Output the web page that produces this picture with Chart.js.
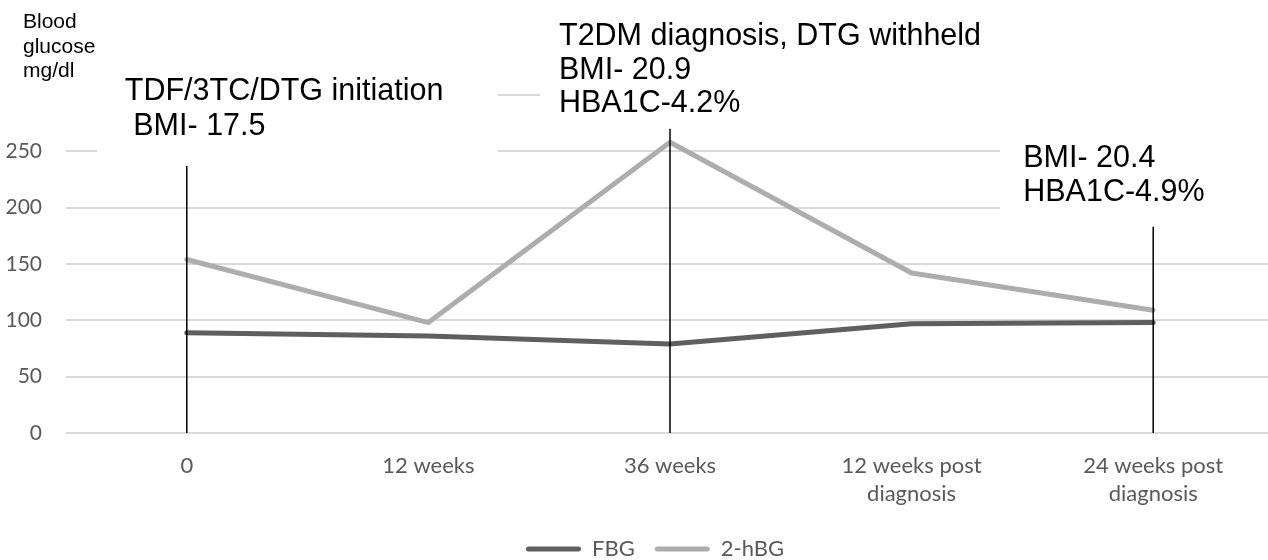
<!DOCTYPE html>
<html>
<head>
<meta charset="utf-8">
<script src="https://cdn.jsdelivr.net/npm/chart.js@4/dist/chart.umd.min.js"></script>
<style>
  body { margin: 0; background: #fff; }
  #wrap { width: 1268px; height: 560px; }
</style>
</head>
<body>
<div id="wrap"><canvas id="glucoseChart" width="1268" height="560"></canvas></div>
<script>
// Data
const timepoints = ['0', '12 weeks', '36 weeks', ['12 weeks post', 'diagnosis'], ['24 weeks post', 'diagnosis']];
const fbg = [89, 86, 79, 97, 98];
const twoHourBG = [154, 98, 258, 142, 109];
const yTicks = [0, 50, 100, 150, 200, 250, 300];

// Event markers: category index, top of the marker line (mg/dl), text
const markerIndex = [0, 2, 4];
const markerTop = [237, 270, 183];
const markerText = [
    ['TDF/3TC/DTG initiation', ' BMI- 17.5'],
    ['T2DM diagnosis, DTG withheld', 'BMI- 20.9', 'HBA1C-4.2%'],
    ['BMI- 20.4', 'HBA1C-4.9%']
];
const axisTitle = ['Blood', 'glucose', 'mg/dl'];

// text box layout (pixels): white boxes as in the original, text offset from marker line
const boxes = [
    { x: 0, y: 0, w: 97, h: 108 },
    { x: 97, y: 55, w: 401, h: 104 },
    { x: 540, y: 0, w: 728, h: 128 },
    { x: 1000, y: 128, w: 268, h: 90 }
];
const textPlace = [
    { dx: -62, y: 100, lh: 35 },
    { dx: -111, y: 45, lh: 33.5 },
    { dx: -130, y: 167, lh: 34 }
];

const darkGrey = '#5f5f5f';
const lightGrey = '#adadad';
const tickGrey = '#595959';

const annotationPlugin = {
    id: 'annotations',
    afterLayout(chart) {
        // the category band in the original runs a few px past the right edge
        const xs = chart.scales.x;
        xs.right += 6;
        xs.width += 6;
        xs.configure();
        // legend in the original sits a little right of centre
        chart.legend.left += 21;
        chart.legend.right += 21;
    },
    beforeDatasetsDraw(chart) {
        const ctx = chart.ctx;
        const xs = chart.scales.x;
        ctx.save();
        ctx.fillStyle = '#ffffff';
        boxes.forEach(b => ctx.fillRect(b.x, b.y, b.w, b.h));

        ctx.fillStyle = '#000000';
        ctx.textBaseline = 'alphabetic';
        ctx.textAlign = 'left';
        ctx.font = '21px "Liberation Sans", Arial, sans-serif';
        axisTitle.forEach((t, i) => ctx.fillText(t, 23, 28 + i * 24.5));

        ctx.font = '30.5px "Liberation Sans", Arial, sans-serif';
        markerText.forEach((lines, m) => {
            const px = xs.getPixelForValue(markerIndex[m]);
            const p = textPlace[m];
            lines.forEach((t, i) => ctx.fillText(t, px + p.dx, p.y + i * p.lh));
        });
        ctx.restore();
    },
    afterDatasetsDraw(chart) {
        const ctx = chart.ctx;
        const xs = chart.scales.x;
        const ys = chart.scales.y;
        ctx.save();
        ctx.strokeStyle = '#000000';
        ctx.lineWidth = 1.5;
        markerIndex.forEach((idx, m) => {
            const px = xs.getPixelForValue(idx);
            ctx.beginPath();
            ctx.moveTo(px, ys.getPixelForValue(markerTop[m]));
            ctx.lineTo(px, ys.getPixelForValue(0));
            ctx.stroke();
        });
        ctx.restore();
    }
};

const chart = new Chart(document.getElementById('glucoseChart').getContext('2d'), {
    type: 'line',
    data: {
        labels: timepoints,
        datasets: [{
            label: 'FBG',
            data: fbg,
            borderColor: darkGrey,
            backgroundColor: darkGrey,
            borderWidth: 5,
            pointRadius: 0,
            borderCapStyle: 'round',
            borderJoinStyle: 'round',
            tension: 0
        }, {
            label: '2-hBG',
            data: twoHourBG,
            borderColor: lightGrey,
            backgroundColor: lightGrey,
            borderWidth: 5,
            pointRadius: 0,
            borderCapStyle: 'round',
            borderJoinStyle: 'round',
            tension: 0
        }]
    },
    options: {
        responsive: false,
        animation: false,
        layout: { padding: { top: 95, bottom: -10, left: 0, right: 0 } },
        scales: {
            x: {
                offset: true,
                grid: { display: false },
                border: { display: false },
                ticks: {
                    color: tickGrey,
                    padding: 11,
                    maxRotation: 0,
                    autoSkip: false,
                    font: { family: 'Lato', size: 22, lineHeight: 1.28 }
                },
                afterFit: scale => { scale.height = 85; }
            },
            y: {
                min: 0,
                max: 300,
                afterBuildTicks: scale => { scale.ticks = yTicks.map(v => ({ value: v })); },
                grid: { color: '#d9d9d9', lineWidth: 2, drawTicks: false },
                border: { display: false },
                ticks: {
                    color: tickGrey,
                    padding: 24,
                    font: { family: 'Lato', size: 21 }
                },
                afterFit: scale => { scale.width = 66; }
            }
        },
        plugins: {
            legend: {
                position: 'bottom',
                labels: {
                    color: tickGrey,
                    boxWidth: 55,
                    boxHeight: 5,
                    padding: 20,
                    useBorderRadius: true,
                    borderRadius: 2.5,
                    font: { family: 'Lato', size: 22 },
                    generateLabels: c => Chart.defaults.plugins.legend.labels.generateLabels(c)
                        .map(item => Object.assign(item, { lineWidth: 0, fillStyle: item.strokeStyle }))
                }
            },
            tooltip: { enabled: false }
        }
    },
    plugins: [annotationPlugin]
});
</script>
</body>
</html>
